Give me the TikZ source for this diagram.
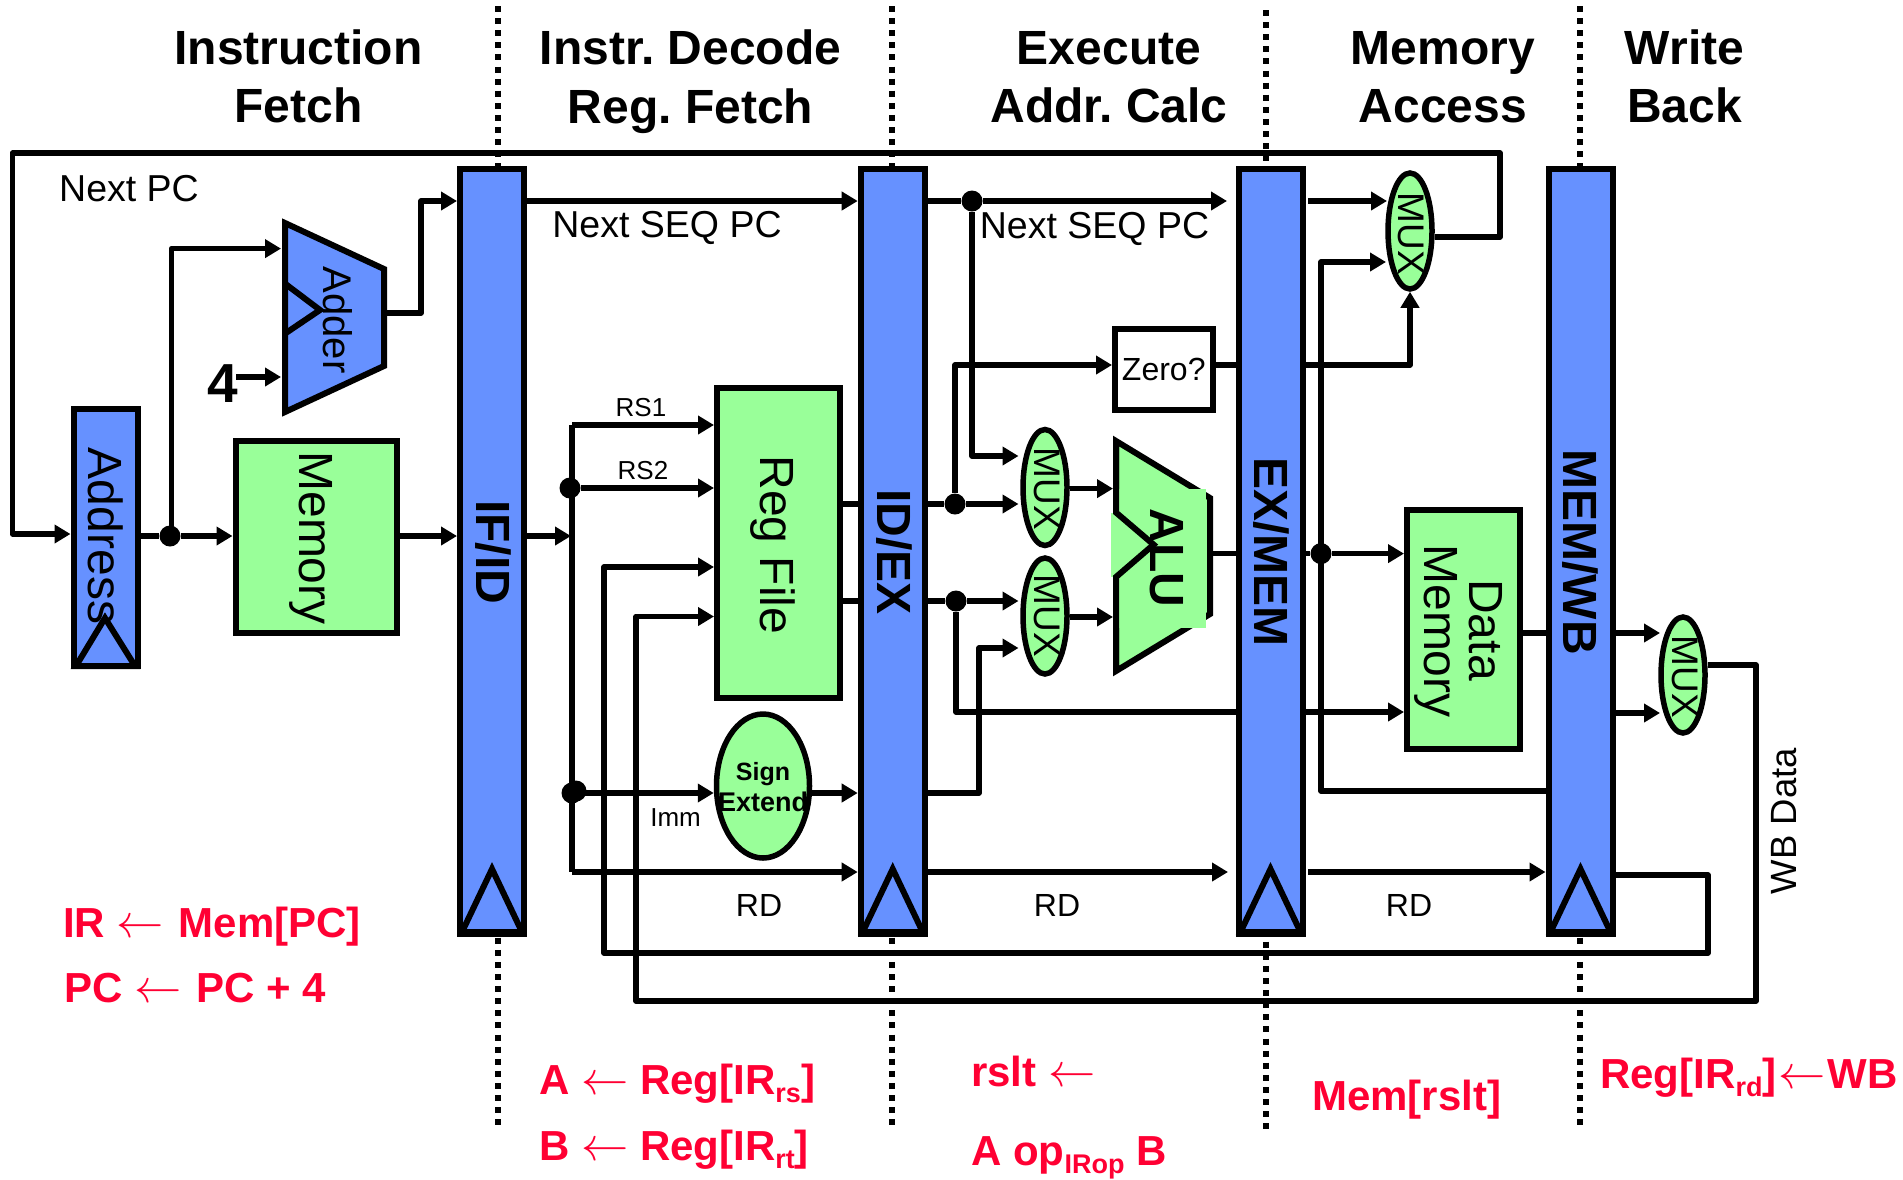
\documentclass[tikz,border=0pt]{standalone}
\usepackage{fontspec}
\setmainfont{Liberation Sans}
\newfontfamily\headfont[WordSpace=0.65]{Liberation Sans}
\usetikzlibrary{arrows.meta,shapes.geometric}
\definecolor{regblue}{HTML}{6691FF}
\definecolor{blockgreen}{HTML}{99FF99}
\definecolor{notered}{HTML}{FF0033}
\newcommand{\fsz}[1]{\fontsize{#1}{#1}\selectfont}
\newcommand{\subtxt}[1]{\raisebox{-8pt}{\fsz{27}#1}}
\newcommand{\larr}{\scalebox{1.9}{\fsz{24.88}$\leftarrow$}}
\tikzset{
  wire/.style={line width=5.5pt,line join=round,line cap=butt},
  arw/.style={wire,-{Triangle[length=16pt,width=18pt]}},
  phase/.style={line width=6pt,dash pattern=on 6pt off 6.1pt},
  reg/.style={draw=black,fill=regblue,line width=6pt,minimum width=64pt,inner sep=0pt},
  block/.style={draw=black,fill=blockgreen,line width=6pt,inner sep=0pt},
  mux/.style={ellipse,draw=black,fill=blockgreen,line width=5.5pt,inner sep=0pt,minimum width=44pt,minimum height=116pt},
  dot/.style={circle,fill=black,inner sep=0pt,minimum size=21pt},
  clock/.style={line width=6pt,line join=miter},
  poly/.style={draw=black,line width=6pt,line join=miter},
  vtxt/.style={rotate=-90,anchor=base,inner sep=0pt,font=\fsz{48}},
  vbold/.style={vtxt,font=\fsz{48}\bfseries},
  muxtxt/.style={rotate=-90,anchor=base,inner sep=0pt,font=\fsz{37}},
  htxt/.style={anchor=base,inner sep=0pt,font=\fsz{37.5}},
  smalltxt/.style={anchor=base,inner sep=0pt,font=\fsz{26}},
  head/.style={anchor=base,inner sep=0pt,font=\headfont\fsz{48}\bfseries},
  note/.style={anchor=base west,inner sep=0pt,text=notered,font=\fsz{42}\bfseries},
}
\begin{document}
\begin{tikzpicture}[x=1pt,y=-1pt]
\useasboundingbox (0,0) rectangle (1903,1179);
% phase separators
\draw[phase] (498,6) -- (498,1127);
\draw[phase] (892,6) -- (892,1127);
\draw[phase] (1266,10) -- (1266,1130);
\draw[phase] (1580,6) -- (1580,1127);
% registers
\node[reg,minimum height=765pt] (ifid) at (492,551.5) {};
\node[reg,minimum height=765pt] (idex) at (892.7,551.5) {};
\node[reg,minimum height=765pt] (exmem) at (1270.5,551.5) {};
\node[reg,minimum height=765pt] (memwb) at (1580.5,551.5) {};
\node[reg,minimum height=257pt] (addr) at (105.5,537.5) {};
% clock triangles
\draw[clock] (462,932) -- (492,869) -- (522,932) -- cycle;
\draw[clock] (862.7,932) -- (892.7,869) -- (922.7,932) -- cycle;
\draw[clock] (1240.5,932) -- (1270.5,869) -- (1300.5,932) -- cycle;
\draw[clock] (1550.5,932) -- (1580.5,869) -- (1610.5,932) -- cycle;
\draw[clock] (76,666) -- (105,618) -- (135,666) -- cycle;
% blocks
\node[block,minimum width=161pt,minimum height=192.5pt] (imem) at (316,536.75) {};
\node[block,minimum width=123pt,minimum height=310pt] (rf) at (778.5,543) {};
\node[block,minimum width=113pt,minimum height=239pt] (dm) at (1463.5,629.5) {};
\node[block,fill=white,minimum width=97.5pt,minimum height=81pt,font=\fsz{32}] (zero) at (1163.75,369) {Zero?};
\node[block,ellipse,line width=5.5pt,minimum width=93pt,minimum height=144pt] (sign) at (763,786) {};
\node[mux] (mux1) at (1410,231) {};
\node[mux] (mux2) at (1045,487.5) {};
\node[mux] (mux3) at (1045,616) {};
\node[mux] (mux4) at (1683,675) {};
% adder
\coordinate (adA) at (285,223);
\coordinate (adB) at (384,269);
\coordinate (adC) at (384,366);
\coordinate (adD) at (285,412);
\coordinate (adE) at (285,333.6);
\coordinate (adF) at (320,310);
\coordinate (adG) at (285,283.6);
\draw[poly,fill=regblue] (adA) -- (adB) -- (adC) -- (adD) -- cycle;
\draw[poly] (adG) -- (adF) -- (adE);
% ALU
\coordinate (alA) at (1116,441);
\coordinate (alB) at (1210,498);
\coordinate (alC) at (1210,614);
\coordinate (alD) at (1116,671);
\coordinate (alE) at (1116,577);
\coordinate (alF) at (1153.6,544.6);
\coordinate (alG) at (1116,512.5);
\draw[poly,fill=blockgreen] (alA) -- (alB) -- (alC) -- (alD) -- (alE) -- (alF) -- (alG) -- cycle;
\fill[blockgreen] (1116,489) rectangle (1206,627.5);
\fill[blockgreen] (1110.7,512.5) rectangle (1116,577);
\draw[poly] (alA) -- (alG) -- (alF) -- (alE) -- (alD);
% junctions
\node[dot] (jpc) at (170,536) {};
\node[dot] (jrs) at (570,488) {};
\node[dot] (jimm) at (572,793) {};
\node[dot] (jimmb) at (576,791) {};
\node[dot] (jseq) at (972,201) {};
\node[dot] (ja) at (955,504) {};
\node[dot] (jb) at (956,601) {};
\node[dot] (jc) at (1321,553.6) {};
% label coordinates
\coordinate (tipseq) at (1227,201);
\coordinate (startseq) at (1308,201);
\coordinate (tiprd) at (1228,872);
\coordinate (startrd) at (1308,872);
% IF stage
\draw[arw] (mux1.east |- 0,237) -- (1500,237) -- (1500,153) -- (12.5,153) -- (12.5,534) -- (addr.west |- 0,534);
\draw[wire] (addr.east |- jpc) -- (jpc);
\draw[arw] (jpc) -- (imem.west |- jpc);
\draw[arw] (jpc.center -| 171.5,0) -- (171.5,248.6) -- (281,248.6);
\draw[arw] (adB |- 0,313) -- (421,313) -- (421,201) -- (ifid.west |- 0,201);
\node[anchor=base,inner sep=0pt,font=\fsz{55}\bfseries] (four) at (223,402) {4};
\draw[arw] (236,377) -- (281,377);
\draw[arw] (imem.east |- jpc) -- (ifid.west |- jpc);
% ID stage
\draw[arw] (ifid.east |- 0,201) -- (idex.west |- 0,201);
\draw[arw] (ifid.east |- jpc) -- (571,536);
\draw[wire] (572,425) -- (572,872);
\draw[arw] (572,425) -- (rf.west |- 0,425);
\draw[arw] (jrs) -- (rf.west |- jrs);
\draw[arw] (jimm) -- (sign.west |- jimm);
\draw[arw] (sign.east |- jimm) -- (idex.west |- jimm);
\draw[arw] (572,872) -- (idex.west |- 0,872);
\draw[wire] (rf.east |- ja) -- (idex.west |- ja);
\draw[wire] (rf.east |- jb) -- (idex.west |- jb);
% EX stage
\draw[wire] (idex.east |- jseq) -- (jseq);
\draw[arw] (jseq) -- (tipseq);
\draw[arw] (jseq) -- (972,456) -- (1018.5,456);
\draw[wire] (idex.east |- ja) -- (ja);
\draw[arw] (ja) -- (1018.5,504);
\draw[arw] (ja) -- (955,365) -- (zero.west |- 0,365);
\draw[wire] (idex.east |- jb) -- (jb);
\draw[arw] (jb) -- (1018.5,601);
\draw[wire] (jb) -- (956,712) -- (exmem.west |- 0,712);
\draw[arw] (idex.east |- 0,793) -- (979,793) -- (979,648) -- (1018.5,648);
\draw[arw] (mux2.east |- 0,488.6) -- (1113,488.6);
\draw[arw] (mux3.east |- 0,617) -- (1113,617);
\draw[wire] (alC |- 0,553.6) -- (exmem.west |- 0,553.6);
\draw[arw] (idex.east |- tiprd) -- (tiprd);
\draw[wire] (zero.east |- 0,365) -- (exmem.west |- 0,365);
% MEM stage
\draw[arw] (startseq) -- (1387,201);
\draw[arw] (exmem.east |- 0,365) -- (1410,365) -- (mux1.south);
\draw[wire] (exmem.east |- jc) -- (jc);
\draw[arw] (jc) -- (dm.west |- jc);
\draw[arw] (memwb.west |- 0,791) -- (1321,791) -- (1321,262) -- (1386,262);
\draw[arw] (exmem.east |- 0,712) -- (dm.west |- 0,712);
\draw[arw] (startrd) -- (memwb.west |- 0,872);
% WB stage
\draw[wire] (dm.east |- 0,633) -- (memwb.west |- 0,633);
\draw[arw] (memwb.east |- 0,633) -- (1660,633);
\draw[arw] (memwb.east |- 0,713) -- (1660,713);
\draw[arw] (mux4.east |- 0,665) -- (1756,665) -- (1756,1001) -- (636,1001) -- (636,616.5) -- (rf.west |- 0,616.5);
\draw[arw] (memwb.east |- 0,875) -- (1708,875) -- (1708,953) -- (604,953) -- (604,567) -- (rf.west |- 0,567);
% vertical labels
\node[vtxt] (taddr) at (88,536) {Address};
\node[vtxt] (timem) at (299,538) {Memory};
\node[vtxt,font=\fsz{40}] (tadder) at (323,320) {Adder};
\node[vbold] (tifid) at (476,552) {IF/ID};
\node[vbold] (tidex) at (877.5,552) {ID/EX};
\node[vbold] (texmem) at (1254,552) {EX/MEM};
\node[vbold] (tmemwb) at (1563,552) {MEM/WB};
\node[vbold] (talu) at (1150,558) {ALU};
\node[vtxt] (trf) at (760,545) {Reg File};
\node[vtxt] (tdata) at (1469,630) {Data};
\node[vtxt] (tdmem) at (1424,631) {Memory};
\node[muxtxt] (tm1) at (1398,234) {MUX};
\node[muxtxt] (tm2) at (1034,489) {MUX};
\node[muxtxt] (tm3) at (1034,616) {MUX};
\node[muxtxt] (tm4) at (1672,677) {MUX};
\node[rotate=90,anchor=base,inner sep=0pt,font=\fsz{36.5}] (twb) at (1796,821) {WB Data};
% horizontal labels
\node[htxt] (tnpc) at (129,201) {Next PC};
\node[htxt] (tseq1) at (667,237) {Next SEQ PC};
\node[htxt] (tseq2) at (1094.5,238) {Next SEQ PC};
\node[smalltxt] (trs1) at (641,416) {RS1};
\node[smalltxt] (trs2) at (643,479) {RS2};
\node[smalltxt] (timm) at (675.6,826.7) {Imm};
\node[anchor=base,inner sep=0pt,font=\fsz{25}\bfseries] (tsign) at (763,780) {Sign};
\node[anchor=base,inner sep=0pt,font=\fsz{27}\bfseries] (text) at (763,811) {Extend};
\node[anchor=base,inner sep=0pt,font=\fsz{32}] (trd1) at (759,916) {RD};
\node[anchor=base,inner sep=0pt,font=\fsz{32}] (trd2) at (1057,916) {RD};
\node[anchor=base,inner sep=0pt,font=\fsz{32}] (trd3) at (1409,916) {RD};
% headers
\node[head] (h1a) at (298.5,64) {Instruction};
\node[head] (h1b) at (298.5,122) {Fetch};
\node[head] (h2a) at (690.5,64) {Instr. Decode};
\node[head] (h2b) at (690.5,123) {Reg. Fetch};
\node[head] (h3a) at (1109,64) {Execute};
\node[head] (h3b) at (1109,122) {Addr. Calc};
\node[head] (h4a) at (1443,64) {Memory};
\node[head] (h4b) at (1443,122) {Access};
\node[head] (h5a) at (1684.5,64) {Write};
\node[head] (h5b) at (1684.5,122) {Back};
% register transfer notes
\node[note] (n1) at (63,937) {IR \larr\hspace{3pt} Mem[PC]};
\node[note] (n2) at (64,1002) {PC \larr\hspace{3pt} PC + 4};
\node[note] (n3) at (539,1094) {A \larr{} Reg[IR\subtxt{rs}]};
\node[note] (n4) at (539,1160) {B \larr{} Reg[IR\subtxt{rt}]};
\node[note] (n5) at (971,1086) {rslt \larr{}};
\node[note] (n6) at (971,1165) {A op\subtxt{IRop} B};
\node[note] (n7) at (1312,1110) {Mem[rslt]};
\node[note] (n8) at (1600,1088) {Reg[IR\subtxt{rd}]\hspace{2pt}\larr\hspace{2pt}WB};
\end{tikzpicture}
\end{document}
